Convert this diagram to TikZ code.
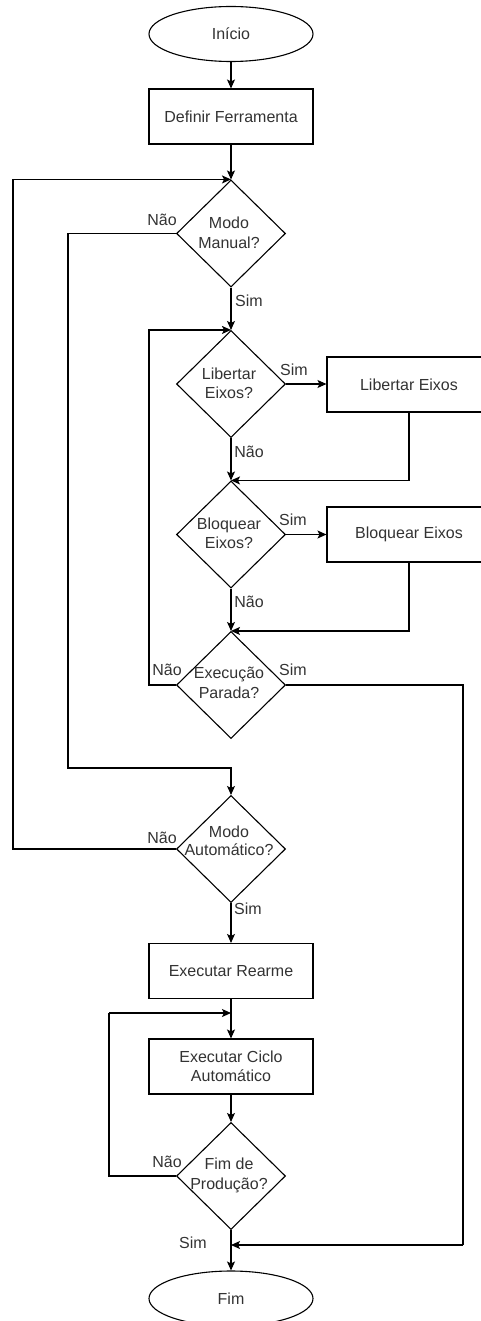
\documentclass[tikz,border=0pt]{standalone}
\usepackage{fontspec}
\setmainfont{Liberation Sans}
\usetikzlibrary{shapes.geometric,arrows.meta}
\definecolor{txt}{gray}{0.2}
\tikzset{
  base/.style={draw=black, line width=1.1pt, fill=white, text=txt, font=\fontsize{16}{19.5}\selectfont, align=center, inner sep=0pt},
  term/.style={base, ellipse, minimum width=164pt, minimum height=55pt},
  proc/.style={base, rectangle, minimum width=164pt, minimum height=55pt},
  dec/.style={base, diamond, minimum width=109pt, minimum height=107pt},
  lbl/.style={text=txt, font=\fontsize{16}{19.5}\selectfont, inner sep=0pt},
  arr/.style={draw=black, line width=1.1pt, -{Stealth[length=9pt,width=8pt,inset=2pt]}},
  ln/.style={draw=black, line width=1.1pt}
}
\begin{document}
\begin{tikzpicture}[x=1pt,y=-1pt]
\useasboundingbox (0,0) rectangle (480,1321);
% nodes
\node[term] (ini) at (231,34) {Início};
\node[proc] (def) at (231,116.5) {Definir Ferramenta};
\node[dec] (mm) at (231,233.5) {};
\node[lbl,align=center] (mmt) at (229,233) {Modo\\Manual?};
\node[dec] (lib) at (231,384) {};
\node[lbl,align=center] (libt) at (229,383.5) {Libertar\\Eixos?};
\node[proc] (le) at (409,384.5) {Libertar Eixos};
\node[dec] (blq) at (231,534.5) {};
\node[lbl,align=center] (blqt) at (229,533.5) {Bloquear\\Eixos?};
\node[proc] (be) at (409,534.5) {Bloquear Eixos};
\node[dec] (ex) at (231,685) {};
\node[lbl,align=center] (ext) at (229,683) {Execução\\Parada?};
\node[dec] (ma) at (231,849) {};
\node[lbl] (mat1) at (229,832) {Modo};
\node[lbl] (mat2) at (229,850) {Automático?};
\node[proc] (rea) at (231,971) {Executar Rearme};
\node[proc] (cic) at (231,1066.5) {Executar Ciclo\\Automático};
\node[dec] (fp) at (231,1176) {};
\node[lbl,align=center] (fpt) at (229,1175.5) {Fim de\\Produção?};
\node[term] (fim) at (231,1298.5) {Fim};
% junction coordinates
\coordinate (j1) at (231,1013);
\coordinate (j2) at (231,1245);
% connectors
\draw[arr] (ini) -- (def);
\draw[arr] (def) -- (mm.north);
\draw[arr] (mm.west) -- (68,233.5) -- (68,768) -- (231,768) -- (ma.north);
\draw[arr] (mm.south) -- (lib.north);
\draw[arr] (lib.east) -- (le.west |- lib.east);
\draw[arr] (lib.south) -- (blq.north);
\draw[arr] (le.south) |- (blq.north);
\draw[arr] (blq.east) -- (be.west |- blq.east);
\draw[arr] (blq.south) -- (ex.north);
\draw[arr] (be.south) |- (ex.north);
\draw[arr] (ex.west) -- (149,685) |- (lib.north);
\draw[ln] (ex.east) -- (463,685) -- (463,1245);
\draw[arr] (463,1245) -- (j2);
\draw[arr] (ma.west) -- (13,849) |- (mm.north);
\draw[arr] (ma.south) -- (rea);
\draw[arr] (rea) -- (cic);
\draw[arr] (cic) -- (fp.north);
\draw[ln] (fp.west) -- (109,1176) -- (109,1013);
\draw[arr] (109,1013) -- (j1);
\draw[arr] (fp.south) -- (fim);
% labels
\node[lbl] (l1) at (162,220) {Não};
\node[lbl] (l2) at (249,301) {Sim};
\node[lbl] (l3) at (294,370) {Sim};
\node[lbl] (l4) at (249,452) {Não};
\node[lbl] (l5) at (293,520) {Sim};
\node[lbl] (l6) at (249,602) {Não};
\node[lbl] (l7) at (167,670) {Não};
\node[lbl] (l8) at (293,670) {Sim};
\node[lbl] (l9) at (162,838) {Não};
\node[lbl] (l10) at (248,909) {Sim};
\node[lbl] (l11) at (167,1162) {Não};
\node[lbl] (l12) at (193,1243) {Sim};
\end{tikzpicture}
\end{document}
